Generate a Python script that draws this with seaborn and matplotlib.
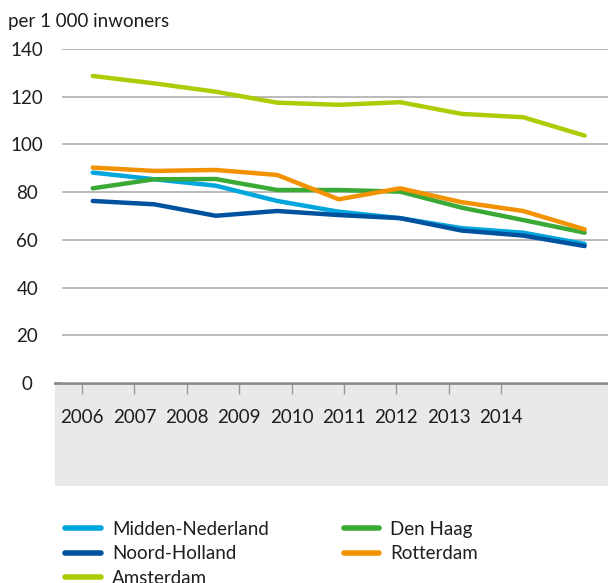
import pandas as pd
import matplotlib.pyplot as plt
import seaborn as sns

# Values
years = [2006, 2007, 2008, 2009, 2010, 2011, 2012, 2013, 2014]
midden_nederland = [88.2, 85.4, 82.7, 76.3, 71.8, 69.1, 64.9, 63.0, 58.3]
noord_holland = [76.3, 74.9, 70.1, 72.1, 70.4, 69.1, 63.9, 61.8, 57.4]
amsterdam = [128.7, 125.6, 122.1, 117.5, 116.6, 117.7, 112.8, 111.4, 103.7]
den_haag = [81.6, 85.4, 85.5, 80.9, 80.9, 80.2, 73.5, 68.3, 63.0]
rotterdam = [90.3, 88.9, 89.3, 87.2, 77.0, 81.6, 75.8, 72.1, 64.4]

regions = ['Midden-Nederland', 'Noord-Holland', 'Amsterdam', 'Den Haag', 'Rotterdam']
colors = ['#00a6dc', '#00529f', '#afcb05', '#3aa935', '#f39200']
y_ticks = [0, 20, 40, 60, 80, 100, 120, 140]

df = pd.DataFrame({
    'jaar': years * 5,
    'waarde': midden_nederland + noord_holland + amsterdam + den_haag + rotterdam,
    'regio': [r for r in regions for _ in years],
})

sns.set_style('white')
plt.rcParams['font.family'] = ['Lato', 'DejaVu Sans']
FS = 13.5
TXT = '#1e1e1e'

W, H = 608, 583
fig = plt.figure(figsize=(W / 100, H / 100), dpi=100)

def px_axes(x0, y0, x1, y1):
    # pixel box (top-left origin) -> figure axes
    return fig.add_axes([x0 / W, 1 - y1 / H, (x1 - x0) / W, (y1 - y0) / H])

# Main plot area
ax = px_axes(62, 49, 608, 383)
sns.lineplot(data=df, x='jaar', y='waarde', hue='regio', hue_order=regions,
             palette=dict(zip(regions, colors)), linewidth=3.2, ax=ax, legend=False)
ax.set_xlim(2005.5, 2014.38)
ax.set_ylim(0, 140)
ax.set_yticks(y_ticks)
ax.set_yticklabels([str(v) for v in y_ticks], fontsize=FS, color=TXT, ha='center')
ax.tick_params(axis='y', length=0, pad=25)
ax.set_xticks([])
ax.set_xlabel('')
ax.set_ylabel('')
ax.grid(axis='y', color='#b4b4b4', linewidth=1.3)
for s in ax.spines.values():
    s.set_visible(False)
ax.set_facecolor('none')

# Grey x-axis band with year labels
band = px_axes(55, 383, 608, 486)
band.set_facecolor('#e9e9e9')
band.set_zorder(-1)
band.set_xlim(-0.515, 10.04)
band.set_ylim(0, 1)
band.set_xticks(range(len(years)))
band.set_xticklabels([str(y) for y in years], fontsize=FS, color=TXT)
band.xaxis.tick_top()
band.tick_params(axis='x', direction='in', length=8, width=1, color='#999999', pad=-31)
band.set_yticks([])
for k, s in band.spines.items():
    s.set_visible(k == 'top')
band.spines['top'].set_color('#8a8a8a')
band.spines['top'].set_linewidth(2)

fig.text(8 / W, 1 - 22 / H, 'per 1 000 inwoners', fontsize=FS, color=TXT, va='center')

handles = [plt.Line2D([], [], color=c, linewidth=4) for c in colors]
fig.legend(handles, regions, loc='upper left', bbox_to_anchor=(48 / W, 1 - 504 / H),
           ncol=2, frameon=False, fontsize=FS, handlelength=1.9, handletextpad=0.6,
           labelspacing=0.4, columnspacing=4.0, labelcolor=TXT)

fig.savefig('out.png', dpi=100)
